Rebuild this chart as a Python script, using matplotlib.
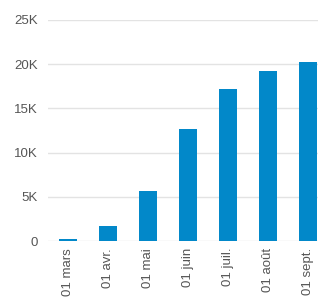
import matplotlib.pyplot as plt
from matplotlib.ticker import FuncFormatter

months = ["01 mars", "01 avr.", "01 mai", "01 juin", "01 juil.", "01 août", "01 sept."]
values = [250, 1750, 5600, 12650, 17250, 19200, 20300]

bar_color = "#0288c9"
grid_color = "#e3e3e3"
text_color = "#555555"

plt.rcParams['font.family'] = ['Liberation Sans', 'DejaVu Sans']

W, H = 318, 299
fig = plt.figure(figsize=(W / 100, H / 100), dpi=100)
ax = fig.add_axes([48 / W, (H - 241) / H, 280 / W, 221 / H])

xpos = list(range(len(months)))
ax.bar(xpos, values, width=0.45, color=bar_color, zorder=2)
ax.set_xlim(-0.5, len(months) - 0.5)
ax.set_ylim(0, 25000)
ax.set_yticks([0, 5000, 10000, 15000, 20000, 25000])
ax.yaxis.set_major_formatter(FuncFormatter(lambda v, p: "0" if v == 0 else f"{int(v / 1000)}K"))
ax.set_xticks(xpos, labels=months, rotation=90)

ax.grid(axis='y', color=grid_color, linewidth=1, zorder=0)
for s in ax.spines.values():
    s.set_visible(False)
ax.tick_params(axis='both', length=0, labelsize=9.5, colors=text_color)
ax.tick_params(axis='y', pad=7.5)
ax.tick_params(axis='x', pad=5)

fig.savefig("out.png", dpi=100)
